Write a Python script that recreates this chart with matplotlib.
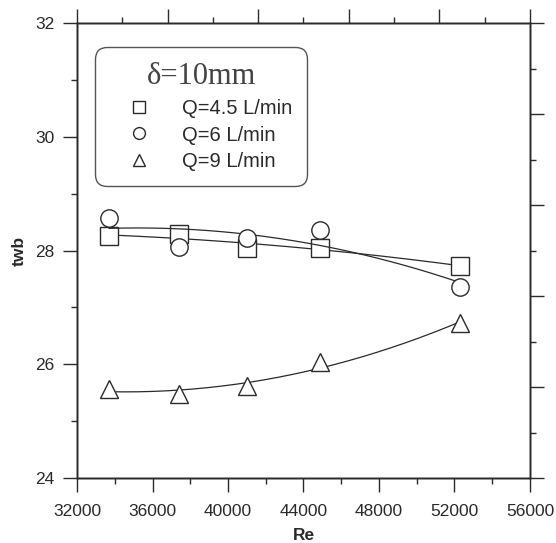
import numpy as np
import matplotlib
matplotlib.use("Agg")
import matplotlib.pyplot as plt
from matplotlib.ticker import MultipleLocator
from matplotlib.lines import Line2D

plt.rcParams['font.family'] = ['Liberation Sans', 'DejaVu Sans']

# data
re_vals = [33700, 37400, 41000, 44900, 52300]
twb_q45 = [28.25, 28.29, 28.04, 28.05, 27.73]
twb_q6 = [28.57, 28.07, 28.22, 28.36, 27.36]
twb_q9 = [25.57, 25.47, 25.62, 26.04, 26.72]
labels = ['Q=4.5 L/min', 'Q=6 L/min', 'Q=9 L/min']
markers = ['s', 'o', '^']

ink = '#2a2a2a'

fig = plt.figure(figsize=(5.56, 5.43), dpi=100)
ax = fig.add_axes([0.1385, 0.1197, 0.8147, 0.8379])

xs = np.linspace(re_vals[0], re_vals[-1], 200)
for ys, m in zip([twb_q45, twb_q6, twb_q9], markers):
    # second order fit curve through each series
    c = np.polyfit(re_vals, ys, 2)
    ax.plot(xs, np.polyval(c, xs), color=ink, lw=0.9)
    ax.plot(re_vals, ys, ls='none', marker=m, ms=13 if m != 'o' else 12.5,
            mfc='white', mec=ink, mew=1.0)

ax.set_xlim(32000, 56000)
ax.set_ylim(24, 32)
ax.xaxis.set_major_locator(MultipleLocator(4000))
ax.xaxis.set_minor_locator(MultipleLocator(2000))
ax.yaxis.set_major_locator(MultipleLocator(2))
ax.yaxis.set_minor_locator(MultipleLocator(1))
ax.tick_params(which='both', direction='out', color=ink, width=1, labelsize=12.5,
               labelcolor=ink)
ax.tick_params(which='major', length=10)
ax.tick_params(which='minor', length=4)
ax.tick_params(axis='x', which='major', pad=9)
ax.tick_params(axis='y', which='major', pad=6)
for s in ax.spines.values():
    s.set_color(ink)
    s.set_linewidth(1)

# top and right axes have their own tick spacing
axr = ax.twinx()
axr.set_ylim(0, 10)
axr.yaxis.set_major_locator(MultipleLocator(2))
axr.yaxis.set_minor_locator(MultipleLocator(1))
axr.tick_params(which='both', direction='out', color=ink, width=1, labelright=False)
axr.tick_params(which='major', length=10)
axr.tick_params(which='minor', length=4)
axt = ax.twiny()
axt.set_xlim(0, 10)
axt.xaxis.set_major_locator(MultipleLocator(2))
axt.xaxis.set_minor_locator(MultipleLocator(1))
axt.tick_params(which='both', direction='out', color=ink, width=1, labeltop=False)
axt.tick_params(which='major', length=10)
axt.tick_params(which='minor', length=4)
for a in (axr, axt):
    for s in a.spines.values():
        s.set_color(ink)
        s.set_linewidth(1)

ax.set_xlabel('Re', fontsize=12.5, color=ink, fontweight='semibold')
ax.set_ylabel('twb', fontsize=12.5, color=ink, fontweight='semibold')
ax.xaxis.set_label_coords(0.5, -0.11)
ax.yaxis.set_label_coords(-0.11, 0.5)

handles = [Line2D([], [], ls='none', marker=m, ms=9 if m != 'o' else 8.5,
                  mfc='white', mec=ink, mew=1.0) for m in markers]
leg = axt.legend(handles, labels, loc='upper left', bbox_to_anchor=(0.04, 0.947),
                 bbox_transform=ax.transAxes, title='δ=10mm',
                 title_fontproperties={'family': 'Liberation Serif', 'size': 22},
                 fontsize=14.5, frameon=True, fancybox=True, edgecolor=ink,
                 borderpad=0.75, handletextpad=0.65, labelspacing=0.38,
                 borderaxespad=0, handlelength=2.9)
leg.get_frame().set_linewidth(1.0)
leg.get_frame().set_boxstyle('round', pad=0, rounding_size=0.6)
for t in leg.get_texts():
    t.set_color(ink)
leg.get_title().set_color('#444444')

fig.savefig('out.png', dpi=100)
